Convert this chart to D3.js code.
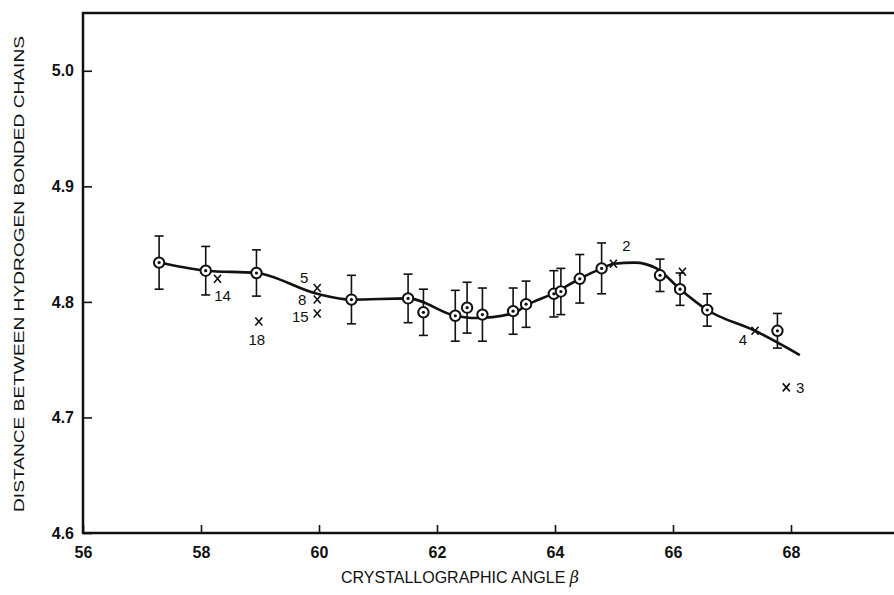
<!DOCTYPE html>
<html>
<head>
<meta charset="utf-8">
<script src="https://cdn.jsdelivr.net/npm/d3@7"></script>
<style>
    html, body { margin: 0; padding: 0; background: #fff; }
    svg { display: block; }
    text { font-family: "Liberation Sans", Arial, sans-serif; fill: #111; }
</style>
</head>
<body>
<div id="chart"></div>
<script>
// Axis ticks
const xTicks = [56, 58, 60, 62, 64, 66, 68];
const yTicks = [4.6, 4.7, 4.8, 4.9, 5.0];

// Observed points (circles with error bars)
const obsBeta = [57.29, 58.08, 58.94, 60.55, 61.51, 61.77, 62.31, 62.51, 62.77, 63.29, 63.51, 63.98, 64.10, 64.42, 64.79, 65.78, 66.12, 66.58, 67.77];
const obsDist = [4.834, 4.827, 4.825, 4.802, 4.803, 4.791, 4.788, 4.795, 4.789, 4.792, 4.798, 4.807, 4.809, 4.820, 4.829, 4.823, 4.811, 4.793, 4.775];
const obsErr  = [0.023, 0.021, 0.020, 0.021, 0.021, 0.020, 0.022, 0.022, 0.023, 0.020, 0.020, 0.020, 0.020, 0.021, 0.022, 0.014, 0.014, 0.014, 0.015];

// Other structures (crosses) and their numbers
const crossBeta  = [58.28, 58.98, 59.97, 59.97, 59.97, 64.99, 66.16, 67.39, 67.92];
const crossDist  = [4.820, 4.783, 4.812, 4.802, 4.790, 4.833, 4.826, 4.775, 4.726];
const crossLabel = ['14', '18', '5', '8', '15', '2', '', '4', '3'];

// Smooth trend line
const curveBeta = [57.29, 58.08, 58.94, 59.97, 60.55, 61.51, 62.31, 62.65, 63.29, 63.51, 64.0, 64.42, 64.79, 65.0, 65.35, 65.72, 66.12, 66.58, 67.39, 68.15];
const curveDist = [4.834, 4.827, 4.825, 4.807, 4.802, 4.803, 4.788, 4.786, 4.790, 4.797, 4.808, 4.820, 4.829, 4.833, 4.834, 4.829, 4.811, 4.793, 4.775, 4.754];

// where each number sits next to its cross (px)
const labelOffset = {
    '14': [5, 17], '18': [-2, 18], '5': [-13, -11], '8': [-15, 0],
    '15': [-17, 3], '2': [13, -18], '4': [-12, 9], '3': [14, 0]
};

const width = 894, height = 595;

const svg = d3.select('#chart')
    .append('svg')
    .attr('width', width)
    .attr('height', height);

const x = d3.scaleLinear().domain([56, 70]).range([83, 909]);
const y = d3.scaleLinear().domain([4.6, 5.05]).range([533, 13]);

// Frame (right side runs off the page)
svg.append('rect')
    .attr('x', x(56))
    .attr('y', y(5.05))
    .attr('width', x(70) - x(56))
    .attr('height', y(4.6) - y(5.05))
    .attr('fill', 'none')
    .attr('stroke', '#111')
    .attr('stroke-width', 2.5);

// Axes
const yAxis = svg.append('g')
    .attr('transform', `translate(${x(56)},0)`)
    .call(d3.axisLeft(y).tickValues(yTicks).tickSize(-9).tickPadding(9).tickFormat(d3.format('.1f')));

const xAxis = svg.append('g')
    .attr('transform', `translate(0,${y(4.6)})`)
    .call(d3.axisBottom(x).tickValues(xTicks).tickSize(-8).tickPadding(14).tickFormat(d3.format('d')));

[yAxis, xAxis].forEach(g => {
    g.select('.domain').remove();
    g.selectAll('.tick line').attr('stroke', '#111').attr('stroke-width', 1.6);
    g.selectAll('.tick text')
        .attr('font-family', '"Liberation Sans", Arial, sans-serif')
        .attr('font-size', 16)
        .attr('font-weight', 'bold')
        .attr('fill', '#111');
});

// Axis titles
svg.append('text')
    .attr('transform', 'translate(24,274) rotate(-90)')
    .attr('text-anchor', 'middle')
    .attr('textLength', 476)
    .attr('lengthAdjust', 'spacingAndGlyphs')
    .style('font-size', '15px')
    .text('DISTANCE BETWEEN HYDROGEN BONDED CHAINS');

const xTitle = svg.append('text')
    .attr('x', 460)
    .attr('y', 583)
    .attr('text-anchor', 'middle')
    .style('font-size', '16px');
xTitle.append('tspan').text('CRYSTALLOGRAPHIC ANGLE  ');
xTitle.append('tspan').style('font-style', 'italic').style('font-family', '"DejaVu Serif", serif').text('β');

// Trend line
const line = d3.line()
    .x((d, i) => x(curveBeta[i]))
    .y(d => y(d))
    .curve(d3.curveMonotoneX);

svg.append('path')
    .datum(curveDist)
    .attr('d', line)
    .attr('fill', 'none')
    .attr('stroke', '#111')
    .attr('stroke-width', 2.6)
    .attr('stroke-linejoin', 'round');

// Error bars
const obs = obsBeta.map((b, i) => ({ b, d: obsDist[i], e: obsErr[i] }));
const bars = svg.append('g')
    .selectAll('g')
    .data(obs)
    .enter()
    .append('g')
    .attr('stroke', '#111')
    .attr('stroke-width', 1.6);

bars.append('line')
    .attr('x1', d => x(d.b)).attr('x2', d => x(d.b))
    .attr('y1', d => y(d.d + d.e)).attr('y2', d => y(d.d - d.e));
bars.append('line')
    .attr('x1', d => x(d.b) - 4.5).attr('x2', d => x(d.b) + 4.5)
    .attr('y1', d => y(d.d + d.e)).attr('y2', d => y(d.d + d.e));
bars.append('line')
    .attr('x1', d => x(d.b) - 4.5).attr('x2', d => x(d.b) + 4.5)
    .attr('y1', d => y(d.d - d.e)).attr('y2', d => y(d.d - d.e));

// Circles with centre dot
const pts = svg.append('g')
    .selectAll('g')
    .data(obs)
    .enter()
    .append('g')
    .attr('transform', d => `translate(${x(d.b)},${y(d.d)})`);

pts.append('circle')
    .attr('r', 5.2)
    .attr('fill', '#fff')
    .attr('stroke', '#111')
    .attr('stroke-width', 2);
pts.append('circle')
    .attr('r', 1.6)
    .attr('fill', '#111');

// Crosses with numbers
const crosses = svg.append('g')
    .selectAll('g')
    .data(crossBeta.map((b, i) => ({ b, d: crossDist[i], label: crossLabel[i] })))
    .enter()
    .append('g')
    .attr('transform', d => `translate(${x(d.b)},${y(d.d)})`);

crosses.append('path')
    .attr('d', 'M-3.5,-4L3.5,4M-3.5,4L3.5,-4')
    .attr('stroke', '#111')
    .attr('stroke-width', 1.6);

crosses.filter(d => d.label)
    .append('text')
    .attr('x', d => labelOffset[d.label][0])
    .attr('y', d => labelOffset[d.label][1])
    .attr('text-anchor', 'middle')
    .attr('dominant-baseline', 'central')
    .style('font-size', '15px')
    .text(d => d.label);
</script>
</body>
</html>
